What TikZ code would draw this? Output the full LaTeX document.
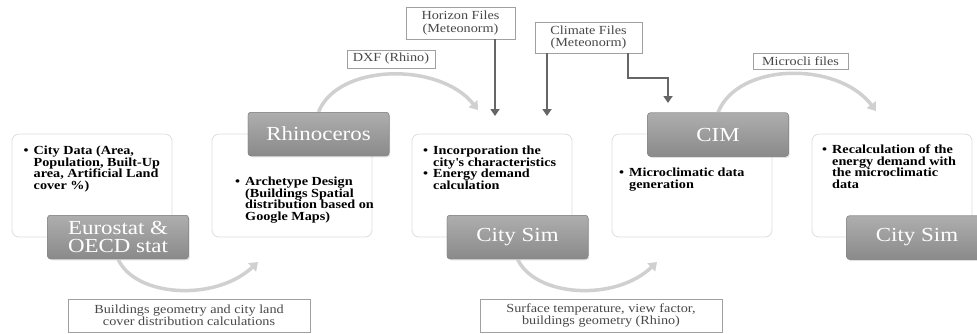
\documentclass[tikz,border=0pt]{standalone}
\usepackage{fontspec}
\setmainfont{Liberation Serif}[FakeStretch=1.15]
\usetikzlibrary{arrows.meta}
\definecolor{cardline}{HTML}{DEDEDE}
\definecolor{arcgray}{HTML}{D0D0D0}
\definecolor{darkarrow}{HTML}{666666}
\definecolor{lblline}{HTML}{A0A0A0}
\definecolor{lbltext}{HTML}{484848}
\definecolor{darktop}{HTML}{AEAEAE}
\definecolor{darkbot}{HTML}{8A8A8A}
\definecolor{darkedge}{HTML}{888888}
\newcommand\bl{\makebox[10bp][l]{\textbullet}}
\newcommand\ind{\hspace*{10bp}}
\begin{document}
\begin{tikzpicture}[x=1bp,y=-1bp,
 card/.style={draw=cardline, line width=0.8bp, fill=white, rounded corners=7bp, minimum width=160bp, minimum height=103bp, inner sep=0pt},
 dark/.style={draw=darkedge, line width=0.5bp, top color=darktop, bottom color=darkbot, rounded corners=3bp, minimum width=141bp, minimum height=43.5bp, text=white, font=\fontsize{20}{19}\selectfont, align=center, inner sep=0pt},
 shade/.style={fill=black, opacity=0.12, rounded corners=3bp, minimum width=141bp, minimum height=43.5bp, inner sep=0pt},
 lbl/.style={draw=lblline, line width=0.6bp, fill=white, text=lbltext, font=\fontsize{12.4}{12.5}\selectfont, align=center, inner sep=0pt},
 btxt/.style={anchor=north west, inner sep=0pt, align=left, font=\fontsize{12.4}{11.5}\selectfont\bfseries},
 flow/.style={draw=arcgray, line width=3.5bp, -{Triangle[length=8bp,width=11bp]}},
 feed/.style={draw=darkarrow, line width=2.6bp, -{Triangle[length=7bp,width=9bp]}}
]
\useasboundingbox (0,0) rectangle (977,333);
\clip (0,0) rectangle (977,333);
\fill[white] (0,0) rectangle (977,333);

% cards
\node[card] (c1) at (92,185.5) {};
\node[card] (c2) at (292,185.5) {};
\node[card] (c3) at (492,185.5) {};
\node[card] (c4) at (692,185.5) {};
\node[card] (c5) at (892,185.5) {};

% card texts
\node[btxt] (t1) at (23.5,146) {\bl City Data (Area,\\\ind Population, Built-Up\\\ind area, Artificial Land\\\ind cover \%)};
\node[btxt] (t2) at (235,177) {\bl Archetype Design\\\ind (Buildings Spatial\\\ind distribution based on\\\ind Google Maps)};
\node[btxt] (t3) at (423,146) {\bl Incorporation the\\\ind city\textquotesingle s characteristics\\\bl Energy demand\\\ind calculation};
\node[btxt] (t4) at (619,168) {\bl Microclimatic data\\\ind generation};
\node[btxt] (t5) at (822,145) {\bl Recalculation of the\\\ind energy demand with\\\ind the microclimatic\\\ind data};

% free ends
\coordinate (e1) at (258,262);
\coordinate (e2) at (478,110);
\coordinate (e3) at (657,262);
\coordinate (e4) at (876,111);

% box positions
\coordinate (p1) at (118,237);
\coordinate (p2) at (318.5,134);
\coordinate (p3) at (517.5,237);
\coordinate (p4) at (718,134.5);
\coordinate (p5) at (917,237.5);

% soft shadows
\foreach \p in {p1,p2,p3,p4,p5} \node[shade] at ([xshift=1.2bp,yshift=-1.5bp]\p) {};

% dark boxes
\node[dark] (d1) at (p1) {Eurostat \&\\OECD stat};
\node[dark] (d2) at (p2) {Rhinoceros};
\node[dark] (d3) at (p3) {City Sim};
\node[dark] (d4) at (p4) {CIM};
\node[dark] (d5) at (p5) {City Sim};

% flow arcs
\draw[flow] (d1.south) .. controls (135,297) and (215,302) .. (e1);
\draw[flow] (d2.north) .. controls (338,63) and (440,62) .. (e2);
\draw[flow] (d3.south) .. controls (535,297) and (615,302) .. (e3);
\draw[flow] (d4.north) .. controls (738,62) and (838,61) .. (e4);

% dark boxes again over the arc starts
\node[dark] at (d1) {Eurostat \&\\OECD stat};
\node[dark] at (d2) {Rhinoceros};
\node[dark] at (d3) {City Sim};
\node[dark] at (d4) {CIM};
\node[dark] at (d5) {City Sim};

% labels
\node[lbl, minimum width=88bp, minimum height=18bp] (dxf) at (391,59) {DXF (Rhino)};
\node[lbl, minimum width=109bp, minimum height=32bp] (hor) at (460.5,23) {Horizon Files\\(Meteonorm)};
\node[lbl, minimum width=107bp, minimum height=31bp] (cli) at (588.5,37.5) {Climate Files\\(Meteonorm)};
\node[lbl, minimum width=95bp, minimum height=16bp] (mic) at (800.5,61) {Microcli files};
\node[lbl, minimum width=242bp, minimum height=33bp] (b1) at (189,315.5) {Buildings geometry and city land\\cover distribution calculations};
\node[lbl, minimum width=242bp, minimum height=33bp] (b2) at (601,315.5) {Surface temperature, view factor,\\buildings geometry (Rhino)};

% feed arrows
\coordinate (ha) at (495,116);
\coordinate (ca) at (547,116);
\coordinate (k1) at (628,78);
\coordinate (cb) at (668,103);
\draw[feed] (hor.south -| ha) -- (ha);
\draw[feed] (cli.south -| ca) -- (ca);
\draw[feed] (cli.south -| k1) -- (k1) -| (cb);
\end{tikzpicture}
\end{document}
